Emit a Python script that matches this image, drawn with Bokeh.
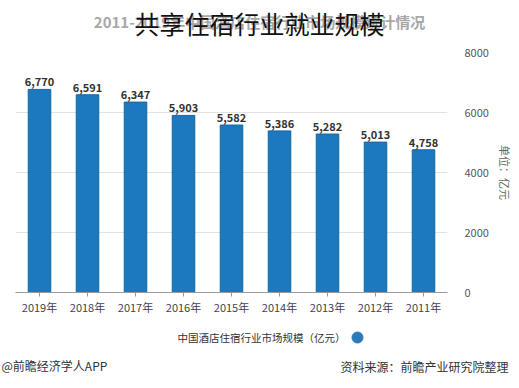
from bokeh.plotting import figure
from bokeh.models import ColumnDataSource, Range1d, FactorRange, FixedTicker
from bokeh.core.properties import value
from bokeh.embed import file_html
from bokeh.resources import INLINE

# ---- data (order as it appears in the picture, left to right) ----
years = ["2019年", "2018年", "2017年", "2016年", "2015年", "2014年", "2013年", "2012年", "2011年"]
values = [6770, 6591, 6347, 5903, 5582, 5386, 5282, 5013, 4758]
value_labels = [f"{v:,}" for v in values]
y_ticks = [0, 2000, 4000, 6000, 8000]

title_text = "共享住宿行业就业规模"
subtitle_text = "2011-2019年中国酒店住宿行业市场规模统计情况"
series_name = "中国酒店住宿行业市场规模（亿元）"
unit_text = "单位：亿元"
source_text = "资料来源：前瞻产业研究院整理"
credit_text = "@前瞻经济学人APP"

FONT = "Noto Sans CJK SC"
BAR = "#1c79c0"
W = 515


def blank(height):
    f = figure(width=W, height=height, x_range=Range1d(0, W), y_range=Range1d(height, 0),
               x_axis_type=None, y_axis_type=None, output_backend="svg",
               toolbar_location=None, min_border=0)
    f.outline_line_color = None
    f.xgrid.grid_line_color = None
    f.ygrid.grid_line_color = None
    return f


def txt(f, s, x, y, size, color, align="left", style="normal"):
    f.text(x=[x], y=[y], text=[s], text_align=align, text_baseline="middle",
           text_font=value(FONT), text_font_size=size, text_font_style=style,
           text_color=color)


# ---- title strip ----
top = blank(44)
txt(top, subtitle_text, 259, 21, "15px", "#a8a8a8", align="center", style="bold")
txt(top, title_text, 259, 22, "25px", "#111111", align="center")

# ---- main chart ----
src = ColumnDataSource(dict(year=years, val=values, lab=value_labels))

p = figure(
    frame_width=432, frame_height=240,
    x_range=FactorRange(*years),
    y_range=Range1d(0, 8000),
    y_axis_location="right",
    output_backend="svg", toolbar_location=None,
    min_border_left=15, min_border_top=8, min_border_bottom=30, min_border_right=10,
)
p.outline_line_color = None

p.vbar(x="year", top="val", width=0.47, source=src,
       fill_color=BAR, line_color="#17669f", line_width=1)

p.text(x="year", y="val", text="lab", source=src,
       text_align="center", text_baseline="bottom", y_offset=-3,
       text_font=value(FONT), text_font_size="11px", text_font_style="bold",
       text_color="#333333")

p.xgrid.grid_line_color = None
p.ygrid.ticker = FixedTicker(ticks=y_ticks)
p.ygrid.grid_line_color = "#e2e2e2"

p.yaxis.ticker = FixedTicker(ticks=y_ticks)
p.yaxis.axis_line_color = None
p.yaxis.major_tick_line_color = None
p.yaxis.minor_tick_line_color = None
p.yaxis.major_label_standoff = 11
p.yaxis.major_label_text_font = FONT
p.yaxis.major_label_text_font_size = "11px"
p.yaxis.major_label_text_color = "#555555"
p.yaxis.axis_label = unit_text
p.yaxis.axis_label_standoff = 5
p.yaxis.axis_label_text_font = FONT
p.yaxis.axis_label_text_font_size = "11px"
p.yaxis.axis_label_text_font_style = "normal"
p.yaxis.axis_label_text_color = "#666666"

p.xaxis.axis_line_color = "#9a9a9a"
p.xaxis.major_tick_line_color = "#9a9a9a"
p.xaxis.major_tick_out = 4
p.xaxis.major_tick_in = 0
p.xaxis.minor_tick_line_color = None
p.xaxis.major_label_standoff = 2
p.xaxis.major_label_text_font = FONT
p.xaxis.major_label_text_font_size = "11px"
p.xaxis.major_label_text_color = "#444444"

# ---- legend + footer strip ----
bot = blank(64)
bot.scatter(x=[357], y=[15], marker="circle", size=11, fill_color="#2b7bba", line_color="#2b7bba")
txt(bot, series_name, 345, 15, "10.5px", "#333333", align="right")
txt(bot, source_text, 340, 44, "12px", "#333333")
txt(bot, credit_text, 1, 43, "12px", "#333333")

open("out.html", "w").write(file_html([top, p, bot], INLINE))
